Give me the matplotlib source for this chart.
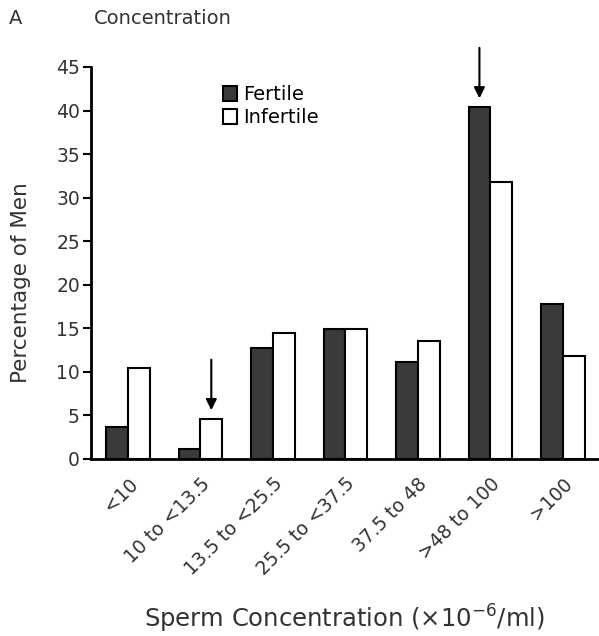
import numpy as np
import matplotlib.pyplot as plt

plt.rcParams['font.family'] = ['DejaVu Sans']

categories = ["<10", "10 to <13.5", "13.5 to <25.5", "25.5 to <37.5",
              "37.5 to 48", ">48 to 100", ">100"]
fertile = [3.7, 1.1, 12.7, 14.9, 11.1, 40.4, 17.8]
infertile = [10.5, 4.6, 14.5, 14.9, 13.5, 31.8, 11.8]
# arrows mark the fertile peak and the infertile dip
arrow_marks = [(1, 0.15, 4.6), (5, -0.15, 40.4)]

text_color = "#333333"


def plot_concentration():
    fig = plt.figure(figsize=(5.99, 6.36), dpi=100)
    ax = fig.add_axes([91 / 599, 1 - 459 / 636, 1 - 91 / 599, (459 - 67) / 636])

    x = np.arange(len(categories))
    width = 0.30
    ax.bar(x - width / 2, fertile, width, color="#3a3a3a", edgecolor="black",
           linewidth=1.5, label="Fertile")
    ax.bar(x + width / 2, infertile, width, color="white", edgecolor="black",
           linewidth=1.5, label="Infertile")

    for idx, offset, top in arrow_marks:
        ax.annotate("", xy=(idx + offset, top + 1.0), xytext=(idx + offset, top + 6.8),
                    arrowprops=dict(arrowstyle="-|>", color="black", lw=1.5,
                                    mutation_scale=16, shrinkA=0, shrinkB=0))

    ax.set_xlim(-0.51, 6.5)
    ax.set_ylim(0, 45)
    ax.set_yticks(np.arange(0, 46, 5))
    ax.set_xticks(x)
    ax.set_xticklabels(categories, rotation=45, ha="right", rotation_mode="anchor",
                       fontsize=13.5, color=text_color)
    ax.tick_params(axis="x", length=0, pad=11)
    ax.tick_params(axis="y", length=6, width=1.5, labelsize=13.5, pad=2,
                   labelcolor=text_color)
    for side in ["top", "right"]:
        ax.spines[side].set_visible(False)
    ax.spines["left"].set_linewidth(2)
    ax.spines["bottom"].set_linewidth(2)

    ax.set_ylabel("Percentage of Men", fontsize=15.5, color=text_color)
    ax.yaxis.set_label_coords(-0.118, 0.45)
    fig.text(0.575, 1 - 603 / 636, r"Sperm Concentration ($\times$10$^{-6}$/ml)",
             ha="center", va="top", fontsize=17.5, color=text_color)

    ax.legend(loc="upper left", bbox_to_anchor=(0.225, 0.998), frameon=False,
              fontsize=14, handlelength=0.75, handleheight=0.8, handletextpad=0.3,
              labelspacing=0.2)

    fig.text(0.015, 1 - 18 / 636, "A", fontsize=14, color=text_color, va="center")
    fig.text(0.157, 1 - 18 / 636, "Concentration", fontsize=14, color=text_color,
             va="center")

    fig.savefig("out.png", dpi=100)


if __name__ == "__main__":
    plot_concentration()
